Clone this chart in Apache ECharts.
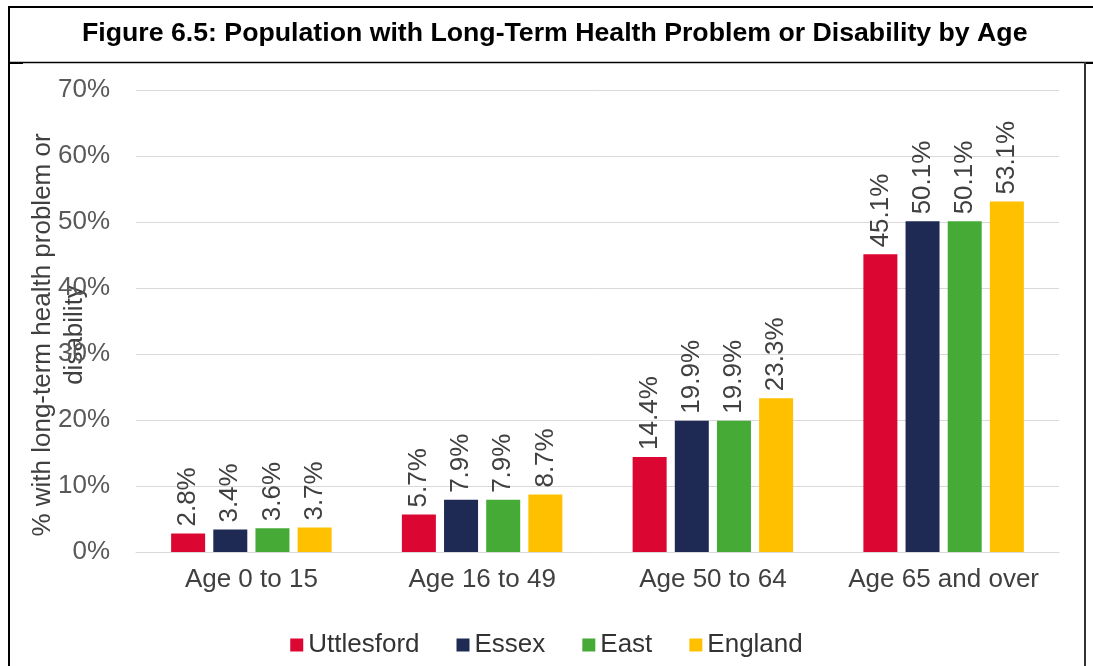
<!DOCTYPE html>
<html>
<head>
<meta charset="utf-8">
<script src="https://cdn.jsdelivr.net/npm/echarts@6/dist/echarts.min.js"></script>
<style>
  html, body { margin: 0; padding: 0; background: #ffffff; }
  #chart { width: 1093px; height: 666px; }
</style>
</head>
<body>
<div id="chart"></div>
<script>
const categories = ['Age 0 to 15', 'Age 16 to 49', 'Age 50 to 64', 'Age 65 and over'];
const uttlesford = [2.8, 5.7, 14.4, 45.1];
const essex = [3.4, 7.9, 19.9, 50.1];
const east = [3.6, 7.9, 19.9, 50.1];
const england = [3.7, 8.7, 23.3, 53.1];

const FONT = 'Liberation Sans, Arial, sans-serif';
const COLORS = {
  uttlesford: '#dc0632',
  essex: '#1f2a54',
  east: '#46ab36',
  england: '#ffc000'
};

function barSeries(name, data, color) {
  return {
    name,
    type: 'bar',
    data,
    barWidth: 34,
    barGap: '24%',
    itemStyle: { color },
    label: {
      show: true,
      position: 'top',
      rotate: 90,
      align: 'left',
      verticalAlign: 'middle',
      distance: 7,
      formatter: '{c}%',
      fontFamily: FONT,
      fontSize: 26,
      color: '#404040'
    }
  };
}

const chart = echarts.init(document.getElementById('chart'), null, { renderer: 'canvas' });

chart.setOption({
  animation: false,
  backgroundColor: '#ffffff',
  title: {
    text: 'Figure 6.5: Population with Long-Term Health Problem or Disability by Age',
    left: 82,
    top: 20,
    padding: 0,
    textStyle: { fontFamily: FONT, fontWeight: 'bold', fontSize: 26.7, color: '#000000' }
  },
  // table frame around the figure
  graphic: [
    { type: 'line', shape: { x1: 8, y1: 7, x2: 1093, y2: 7 }, style: { stroke: '#000', lineWidth: 2 } },
    { type: 'line', shape: { x1: 9, y1: 6, x2: 9, y2: 666 }, style: { stroke: '#000', lineWidth: 2 } },
    { type: 'line', shape: { x1: 9, y1: 62.5, x2: 1093, y2: 62.5 }, style: { stroke: '#000', lineWidth: 1.5 } },
    { type: 'line', shape: { x1: 9, y1: 63, x2: 23, y2: 63 }, style: { stroke: '#000', lineWidth: 2 } },
    { type: 'line', shape: { x1: 1084, y1: 63, x2: 1093, y2: 63 }, style: { stroke: '#000', lineWidth: 2 } },
    { type: 'line', shape: { x1: 1085, y1: 62, x2: 1085, y2: 666 }, style: { stroke: '#333', lineWidth: 2 } }
  ],
  legend: {
    bottom: 3,
    left: 'center',
    itemWidth: 13,
    itemHeight: 13,
    itemGap: 37,
    icon: 'rect',
    textStyle: { fontFamily: FONT, fontSize: 26, color: '#333333' },
    data: ['Uttlesford', 'Essex', 'East', 'England']
  },
  grid: {
    left: 136, right: 34, top: 90, bottom: 114,
    containLabel: false,
    outerBoundsMode: 'none'
  },
  xAxis: {
    type: 'category',
    data: categories,
    axisLine: { lineStyle: { color: '#d9d9d9', width: 1 } },
    axisTick: { show: false },
    axisLabel: { interval: 0, fontFamily: FONT, fontSize: 26, color: '#404040', margin: 15 }
  },
  yAxis: {
    type: 'value',
    min: 0,
    max: 70,
    interval: 10,
    name: '% with long-term health problem or\ndisability',
    nameLocation: 'middle',
    nameRotate: 90,
    nameGap: 45,
    nameMoveOverlap: false,
    nameTextStyle: {
      fontFamily: FONT,
      fontSize: 26,
      color: '#404040',
      lineHeight: 32,
      padding: [0, 28, 0, 0]
    },
    axisLine: { show: false },
    axisTick: { show: false },
    splitLine: { lineStyle: { color: '#d9d9d9', width: 1 } },
    axisLabel: {
      fontFamily: FONT,
      fontSize: 26,
      color: '#595959',
      margin: 26,
      formatter: '{value}%'
    }
  },
  series: [
    barSeries('Uttlesford', uttlesford, COLORS.uttlesford),
    barSeries('Essex', essex, COLORS.essex),
    barSeries('East', east, COLORS.east),
    barSeries('England', england, COLORS.england)
  ]
});
</script>
</body>
</html>
